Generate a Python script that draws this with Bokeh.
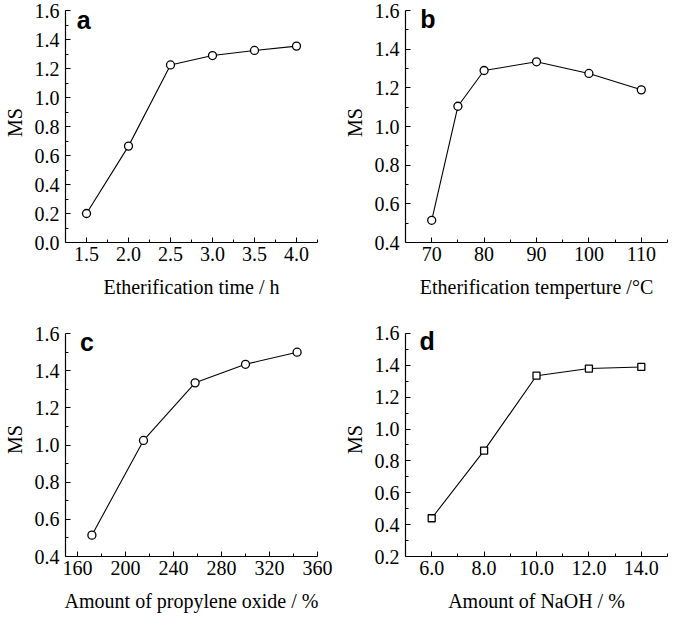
from bokeh.plotting import figure
from bokeh.layouts import column, row
from bokeh.models import FixedTicker, PrintfTickFormatter, Range1d, Label
from bokeh.embed import file_html
from bokeh.resources import INLINE

# ---- data ----
time_h = [1.5, 2.0, 2.5, 3.0, 3.5, 4.0]
ms_time = [0.20, 0.665, 1.225, 1.29, 1.325, 1.355]

temp_c = [70, 75, 80, 90, 100, 110]
ms_temp = [0.515, 1.105, 1.29, 1.335, 1.275, 1.19]

po_pct = [172, 215, 258, 300, 343]
ms_po = [0.515, 1.025, 1.335, 1.435, 1.50]

naoh_pct = [6.0, 8.0, 10.0, 12.0, 14.0]
ms_naoh = [0.44, 0.865, 1.335, 1.38, 1.39]

SERIF = "Liberation Serif"
SANS = "Liberation Sans"


def make_panel(xs, ys, xr, yr, ytop, xmaj, xmin, ymaj, ymin, xfmt, xlabel,
               letter, letter_xy, marker, width, height, borders):
    bl, br, bt, bb = borders
    p = figure(width=width, height=height, output_backend="svg",
               toolbar_location=None, x_range=Range1d(*xr),
               y_range=Range1d(yr[0], ytop),
               min_border_left=bl, min_border_right=br, min_border_top=bt,
               min_border_bottom=bb)
    p.outline_line_color = None
    p.xgrid.visible = False
    p.ygrid.visible = False
    p.background_fill_color = "white"
    p.border_fill_color = "white"

    p.xaxis.ticker = FixedTicker(ticks=xmaj, minor_ticks=xmin)
    p.yaxis.ticker = FixedTicker(ticks=ymaj, minor_ticks=ymin)
    p.xaxis.formatter = PrintfTickFormatter(format=xfmt)
    p.yaxis.formatter = PrintfTickFormatter(format="%.1f")
    p.yaxis.bounds = (yr[0], yr[1])

    for ax in (p.xaxis, p.yaxis):
        ax.axis_line_color = "black"
        ax.axis_line_width = 1.2
        ax.major_tick_line_color = "black"
        ax.minor_tick_line_color = "black"
        ax.major_tick_in = 5
        ax.major_tick_out = 0
        ax.minor_tick_in = 3
        ax.minor_tick_out = 0
        ax.major_label_text_font = SERIF
        ax.major_label_text_font_size = "20px"
        ax.major_label_text_color = "black"
        ax.axis_label_text_font = SERIF
        ax.axis_label_text_font_size = "20px"
        ax.axis_label_text_font_style = "normal"
        ax.axis_label_text_color = "black"
        ax.axis_label_text_line_height = 0.8
        ax.major_label_text_line_height = 0.8

    p.xaxis.axis_label = xlabel
    p.yaxis.axis_label = "MS"
    p.xaxis.major_label_standoff = 4
    p.xaxis.axis_label_standoff = 12
    p.yaxis.major_label_standoff = 6
    p.yaxis.axis_label_standoff = 6

    p.line(xs, ys, line_color="black", line_width=1.1)
    if marker == "circle":
        p.scatter(xs, ys, marker="circle", size=8, fill_color="white",
                  line_color="black", line_width=1.3)
    else:
        p.scatter(xs, ys, marker="square", size=7, fill_color="white",
                  line_color="black", line_width=1.3)

    p.add_layout(Label(x=letter_xy[0], y=letter_xy[1], text=letter,
                       text_font=SANS, text_font_style="bold",
                       text_font_size="25px", text_color="black",
                       text_baseline="alphabetic", text_align="left"))
    return p


pa = make_panel(time_h, ms_time, (1.25, 4.25), (0.0, 1.6), 1.656,
                [1.5, 2.0, 2.5, 3.0, 3.5, 4.0], [1.75, 2.25, 2.75, 3.25, 3.75, 4.25],
                [0.0, 0.2, 0.4, 0.6, 0.8, 1.0, 1.2, 1.4, 1.6],
                [0.1, 0.3, 0.5, 0.7, 0.9, 1.1, 1.3, 1.5],
                "%.1f", "Etherification time / h", "a", (1.385, 1.537), "circle",
                334, 300, (57, 17, 2, 40))

pb = make_panel(temp_c, ms_temp, (65, 115), (0.4, 1.6), 1.642,
                [70, 80, 90, 100, 110], [75, 85, 95, 105, 115],
                [0.4, 0.6, 0.8, 1.0, 1.2, 1.4, 1.6],
                [0.5, 0.7, 0.9, 1.1, 1.3, 1.5],
                "%d", "Etherification temperture /°C", "b", (67.8, 1.558), "circle",
                335, 300, (71, 2, 2, 40))

pc = make_panel(po_pct, ms_po, (150, 360), (0.4, 1.6), 1.66,
                [160, 200, 240, 280, 320, 360], [180, 220, 260, 300, 340],
                [0.4, 0.6, 0.8, 1.0, 1.2, 1.4, 1.6],
                [0.5, 0.7, 0.9, 1.1, 1.3, 1.5],
                "%d", "Amount of propylene oxide / %", "c", (162, 1.557), "circle",
                334, 314, (57, 17, 22, 40))

pd_ = make_panel(naoh_pct, ms_naoh, (5, 15), (0.2, 1.6), 1.669,
                 [6, 8, 10, 12, 14], [7, 9, 11, 13, 15],
                 [0.2, 0.4, 0.6, 0.8, 1.0, 1.2, 1.4, 1.6],
                 [0.3, 0.5, 0.7, 0.9, 1.1, 1.3, 1.5],
                 "%.1f", "Amount of NaOH / %", "d", (5.53, 1.55), "square",
                 335, 314, (71, 2, 22, 40))

layout = column(row(pa, pb), row(pc, pd_))

open("out.html", "w").write(file_html(layout, INLINE))
